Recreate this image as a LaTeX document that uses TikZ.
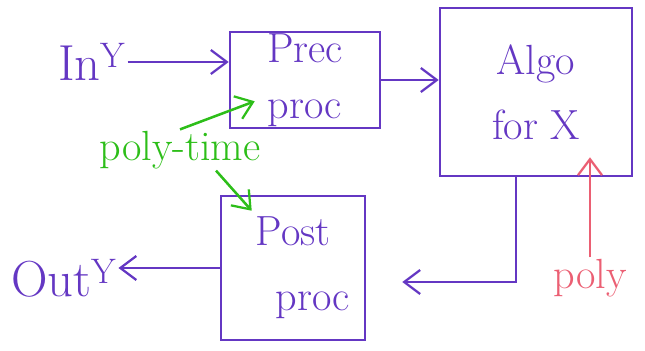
\documentclass[tikz,border=0pt]{standalone}
\usetikzlibrary{positioning}
\usetikzlibrary{arrows.meta}
\usepackage{xcolor}
\tikzset{>={Straight Barb[length=4mm,width=6mm,line width=1.6pt]}}
\definecolor{pen}{RGB}{100,55,195}
\definecolor{penGreen}{RGB}{45,190,25}
\definecolor{penRed}{RGB}{235,95,115}
\tikzstyle{block}=[draw=pen,line width=1.8pt,text=pen,align=center,inner sep=0,font=\fontsize{30}{40}\selectfont]
\tikzstyle{hand}=[text=pen,inner sep=1,font=\fontsize{30}{34}\selectfont]
\tikzstyle{flow}=[pen,line width=1.8pt,->]

\begin{document}
\begin{tikzpicture}[x=0.025cm,y=-0.025cm]
  \useasboundingbox (0,0) rectangle (645,350);
  % BOXES
  \node[block,minimum width=3.75cm,minimum height=2.4cm] (pre) at (305,80) {Prec\\proc};
  \node[block,minimum width=4.8cm,minimum height=4.2cm] (algo) at (536,92) {Algo\\[6pt]for X};
  \node[block,minimum width=3.6cm,minimum height=3.6cm] (post) at (293,268) {Post\\[6pt]\hspace{1cm}proc};

  % IN / OUT
  \node[hand,font=\fontsize{36}{40}\selectfont] (input) at (92,62) {In\textsuperscript{Y}};
  \node[hand,font=\fontsize{36}{40}\selectfont] (output) at (64,278) {Out\textsuperscript{Y}};

  % FLOW
  \draw[flow] (input) -- (input -| pre.west);
  \draw[flow] (pre) -- (pre -| algo.west);
  \draw[flow,shorten >=0.9cm] ([xshift=-0.5cm]algo.south) |- ([yshift=-0.35cm]post.east);
  \draw[flow] (post) -- (post -| output.east);

  % NOTES
  \node[hand,text=penGreen] (polytime) at (180,150) {poly-time};
  \draw[flow,penGreen] (polytime.north) -- ([shift={(0.65cm,0.7cm)}]pre.south west);
  \draw[flow,penGreen] ([xshift=0.9cm]polytime.south) -- ([shift={(0.8cm,-0.4cm)}]post.north west);
  \node[hand,text=penRed] (poly) at (590,278) {poly};
  \draw[flow,penRed] (poly) -- ([yshift=0.5cm]poly |- algo.south);
\end{tikzpicture}
\end{document}
